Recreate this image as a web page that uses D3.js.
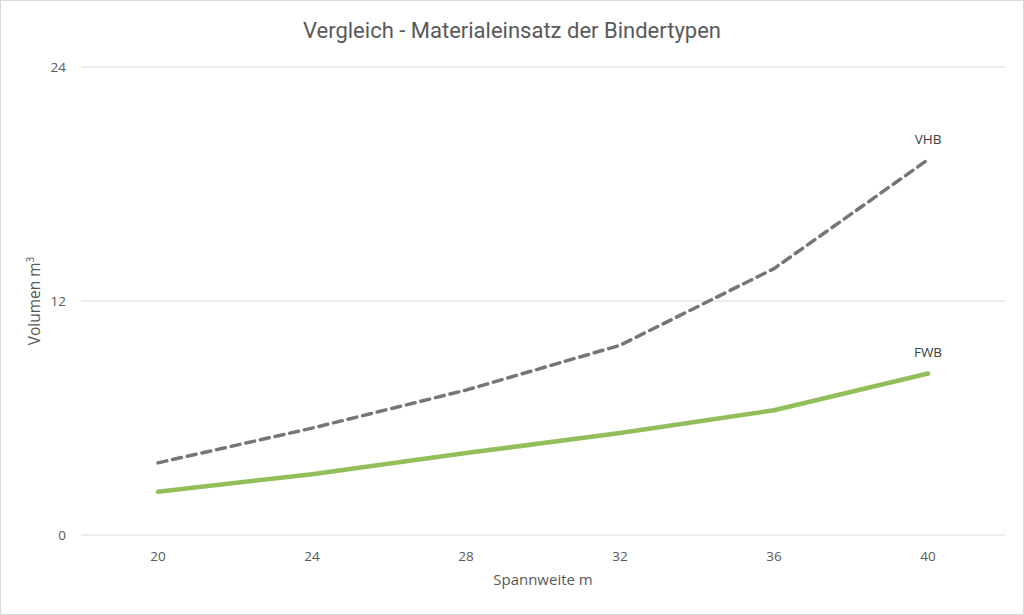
<!DOCTYPE html>
<html><head><meta charset="utf-8">
<script src="https://cdn.jsdelivr.net/npm/d3@7"></script>
<style>body{margin:0;background:#fff}svg{display:block}</style>
</head><body>
<svg id="c" width="1024" height="615"></svg>
<script>
const categories = ["20","24","28","32","36","40"];
const vhb = [3.70, 5.48, 7.43, 9.73, 13.66, 19.25];
const fwb = [2.22, 3.12, 4.20, 5.23, 6.40, 8.28];
const yTicks = [0, 12, 24];

const svg = d3.select("#c");
const W = 1024, H = 615;
const m = {l:81, r:19, t:67, b:80};
const font = "'Open Sans','Noto Sans',sans-serif";

svg.append("rect").attr("x",0.5).attr("y",0.5).attr("width",W-1).attr("height",H-1)
  .attr("fill","#fff").attr("stroke","#d9d9d9");

const x = d3.scalePoint().domain(categories).range([m.l, W-m.r]).padding(0.5);
const y = d3.scaleLinear().domain([0,24]).range([H-m.b, m.t]);

// gridlines
svg.append("g").selectAll("line").data(yTicks).join("line")
  .attr("x1",m.l).attr("x2",W-m.r).attr("y1",d=>y(d)).attr("y2",d=>y(d))
  .attr("stroke","#d9d9d9").attr("stroke-width",1);

// y tick labels
svg.append("g").selectAll("text").data(yTicks).join("text")
  .attr("x",66).attr("y",d=>y(d)).attr("dy","0.35em").attr("text-anchor","end")
  .attr("font-family",font).attr("font-size",13.5).attr("fill","#595959").text(d=>d);

// x tick labels
svg.append("g").selectAll("text").data(categories).join("text")
  .attr("x",d=>x(d)).attr("y",561).attr("text-anchor","middle")
  .attr("font-family",font).attr("font-size",13.5).attr("fill","#595959").text(d=>d);

const line = d3.line().x((d,i)=>x(categories[i])).y(d=>y(d));

svg.append("path").datum(fwb).attr("d",line).attr("fill","none")
  .attr("stroke","#93bf5a").attr("stroke-width",4.5).attr("stroke-linecap","round").attr("stroke-linejoin","round");
svg.append("path").datum(vhb).attr("d",line).attr("fill","none")
  .attr("stroke","#767676").attr("stroke-width",3.5).attr("stroke-dasharray","9,6").attr("stroke-linecap","round");

// series labels
svg.append("text").attr("x",x("40")).attr("y",y(vhb[5])-16).attr("text-anchor","middle")
  .attr("font-family",font).attr("font-size",13.5).attr("fill","#404040").text("VHB");
svg.append("text").attr("x",x("40")).attr("y",y(fwb[5])-17).attr("text-anchor","middle")
  .attr("font-family",font).attr("font-size",13.5).attr("fill","#404040").text("FWB");

// title
svg.append("text").attr("x",512).attr("y",38).attr("text-anchor","middle")
  .attr("font-family","'Liberation Sans Narrow','Roboto','Open Sans',sans-serif").attr("font-size",22)
  .attr("fill","#595959").text("Vergleich - Materialeinsatz der Bindertypen");

// axis titles
svg.append("text").attr("x",543).attr("y",585).attr("text-anchor","middle")
  .attr("font-family",font).attr("font-size",15).attr("fill","#595959").text("Spannweite m");
const yt = svg.append("text").attr("transform","translate(40,"+((y(0)+y(24))/2)+") rotate(-90)")
  .attr("text-anchor","middle").attr("font-family",font).attr("font-size",15.5).attr("fill","#595959");
yt.append("tspan").text("Volumen m");
yt.append("tspan").attr("dy",-6).attr("font-size",10).text("3");
</script>
</body></html>
